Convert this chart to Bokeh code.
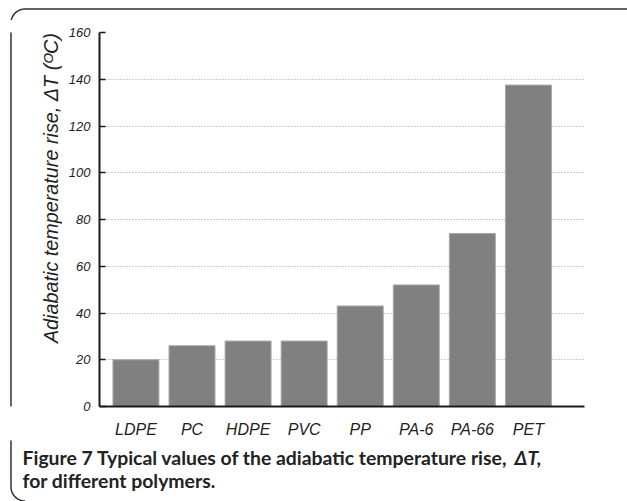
import math
from bokeh.plotting import figure
from bokeh.layouts import column, row
from bokeh.models import FixedTicker, Range1d, ColumnDataSource
from bokeh.core.properties import value
from bokeh.embed import file_html
from bokeh.resources import INLINE

# ---- data ----
polymers = ["LDPE", "PC", "HDPE", "PVC", "PP", "PA-6", "PA-66", "PET"]
delta_t = [20, 26, 28, 28, 43, 52, 74, 137.5]
y_ticks = [0, 20, 40, 60, 80, 100, 120, 140, 160]

y_title = "Adiabatic temperature rise, \u0394T (\u1d3cC)"
caption_1 = "Figure 7 Typical values of the adiabatic temperature rise,"
caption_1_it = "\u0394T,"
caption_2 = "for different polymers."

AX_FONT = "Liberation Sans"
CAP_FONT = "Lato"
TXT = "#222222"
BORDER = "#333333"

W, H = 627, 501
TOP_H, MID_H = 20, 420
CAP_H = H - TOP_H - MID_H
LEFT_W = 62
CHART_W = W - LEFT_W


def strip(w, h):
    # pixel-unit canvas: x to the right, y upward (0 at bottom)
    f = figure(width=w, height=h, output_backend="svg", toolbar_location=None,
               x_range=Range1d(0, w), y_range=Range1d(0, h),
               x_axis_location=None, y_axis_location=None, min_border=0)
    f.outline_line_color = None
    f.background_fill_color = "white"
    f.border_fill_color = "white"
    f.xgrid.visible = False
    f.ygrid.visible = False
    return f


def arc(cx, cy, r, a0, a1, n=12):
    xs, ys = [], []
    for k in range(n + 1):
        a = a0 + (a1 - a0) * k / n
        xs.append(cx + r * math.cos(a))
        ys.append(cy + r * math.sin(a))
    return xs, ys


BX, BY, R = 10.5, 8.5, 14  # border left x, top y (page px), corner radius

# ---- top strip: top border with rounded corner ----
top = strip(W, TOP_H)
ty = TOP_H - BY
ax, ay = arc(BX + R, ty - R, R, math.pi, 0.5 * math.pi)
top.line(x=[BX] + ax + [W + 5], y=[-1] + ay + [ty], line_color=BORDER, line_width=1.5)

# ---- left strip: left border + y axis title ----
left = strip(LEFT_W, MID_H)


def ly(page_y):
    return MID_H - (page_y - TOP_H)


left.line(x=[BX, BX], y=[-1, MID_H + 1], line_color=BORDER, line_width=1.5)
left.text(x=[50], y=[ly(368.8)], text=[y_title], angle=math.pi / 2,
          text_font=value(AX_FONT), text_font_style="italic", text_font_size="19.8px",
          text_color=TXT, text_align="left", text_baseline="alphabetic")

# ---- chart ----
positions = list(range(1, len(polymers) + 1))
source = ColumnDataSource(data=dict(x=positions, top=delta_t, name=polymers))

p = figure(width=CHART_W, height=MID_H, output_backend="svg", toolbar_location=None,
           x_range=Range1d(0.35, 9.0), y_range=Range1d(0, 160),
           min_border_left=99 - LEFT_W, min_border_right=W - 584,
           min_border_top=32 - TOP_H, min_border_bottom=TOP_H + MID_H - 406)
p.outline_line_color = None
p.background_fill_color = "white"
p.border_fill_color = "white"

p.vbar(x="x", top="top", width=0.82, source=source,
       fill_color="#808080", line_color="#a8a8a8", line_width=1)

p.xgrid.grid_line_color = None
p.ygrid.ticker = FixedTicker(ticks=y_ticks)
p.ygrid.grid_line_color = "#9a9a9a"
p.ygrid.grid_line_dash = "1 2"
p.ygrid.grid_line_width = 1
p.ygrid.level = "underlay"

ya = p.yaxis[0]
ya.ticker = FixedTicker(ticks=y_ticks)
ya.axis_line_color = "#1a1a1a"
ya.axis_line_width = 2
ya.major_tick_in = 6
ya.major_tick_out = 0
ya.major_tick_line_color = "#1a1a1a"
ya.major_tick_line_width = 1.5
ya.minor_tick_line_color = None
ya.major_label_text_font = AX_FONT
ya.major_label_text_font_style = "italic"
ya.major_label_text_font_size = "13px"
ya.major_label_text_color = TXT
ya.major_label_standoff = 9

xa = p.xaxis[0]
xa.ticker = FixedTicker(ticks=positions)
xa.major_label_overrides = {i: n for i, n in zip(positions, polymers)}
xa.axis_line_color = "#1a1a1a"
xa.axis_line_width = 2
xa.major_tick_line_color = None
xa.minor_tick_line_color = None
xa.major_label_text_font = AX_FONT
xa.major_label_text_font_style = "italic"
xa.major_label_text_font_size = "16px"
xa.major_label_text_color = TXT
xa.major_label_standoff = 8

# ---- caption strip ----
cap = strip(W, CAP_H)
cy0 = TOP_H + MID_H


def cy(page_y):
    return CAP_H - (page_y - cy0)


bx_arc, by_arc = arc(BX + R, cy(500.5) + R, R, math.pi, 1.5 * math.pi)
cap.line(x=[BX] + bx_arc, y=[CAP_H + 1] + by_arc, line_color=BORDER, line_width=1.5)
cap.text(x=[22], y=[cy(457)], text=[caption_1],
         text_font=value(CAP_FONT), text_font_style="bold", text_font_size="19.4px",
         text_color=TXT, text_align="left", text_baseline="alphabetic")
cap.text(x=[541], y=[cy(457)], text=[caption_1_it],
         text_font=value(CAP_FONT), text_font_style="bold italic", text_font_size="19.4px",
         text_color=TXT, text_align="right", text_baseline="alphabetic")
cap.text(x=[22], y=[cy(480)], text=[caption_2],
         text_font=value(CAP_FONT), text_font_style="bold", text_font_size="19.4px",
         text_color=TXT, text_align="left", text_baseline="alphabetic")

layout = column(top, row(left, p, spacing=0), cap, spacing=0)

open("out.html", "w").write(file_html(layout, INLINE))
